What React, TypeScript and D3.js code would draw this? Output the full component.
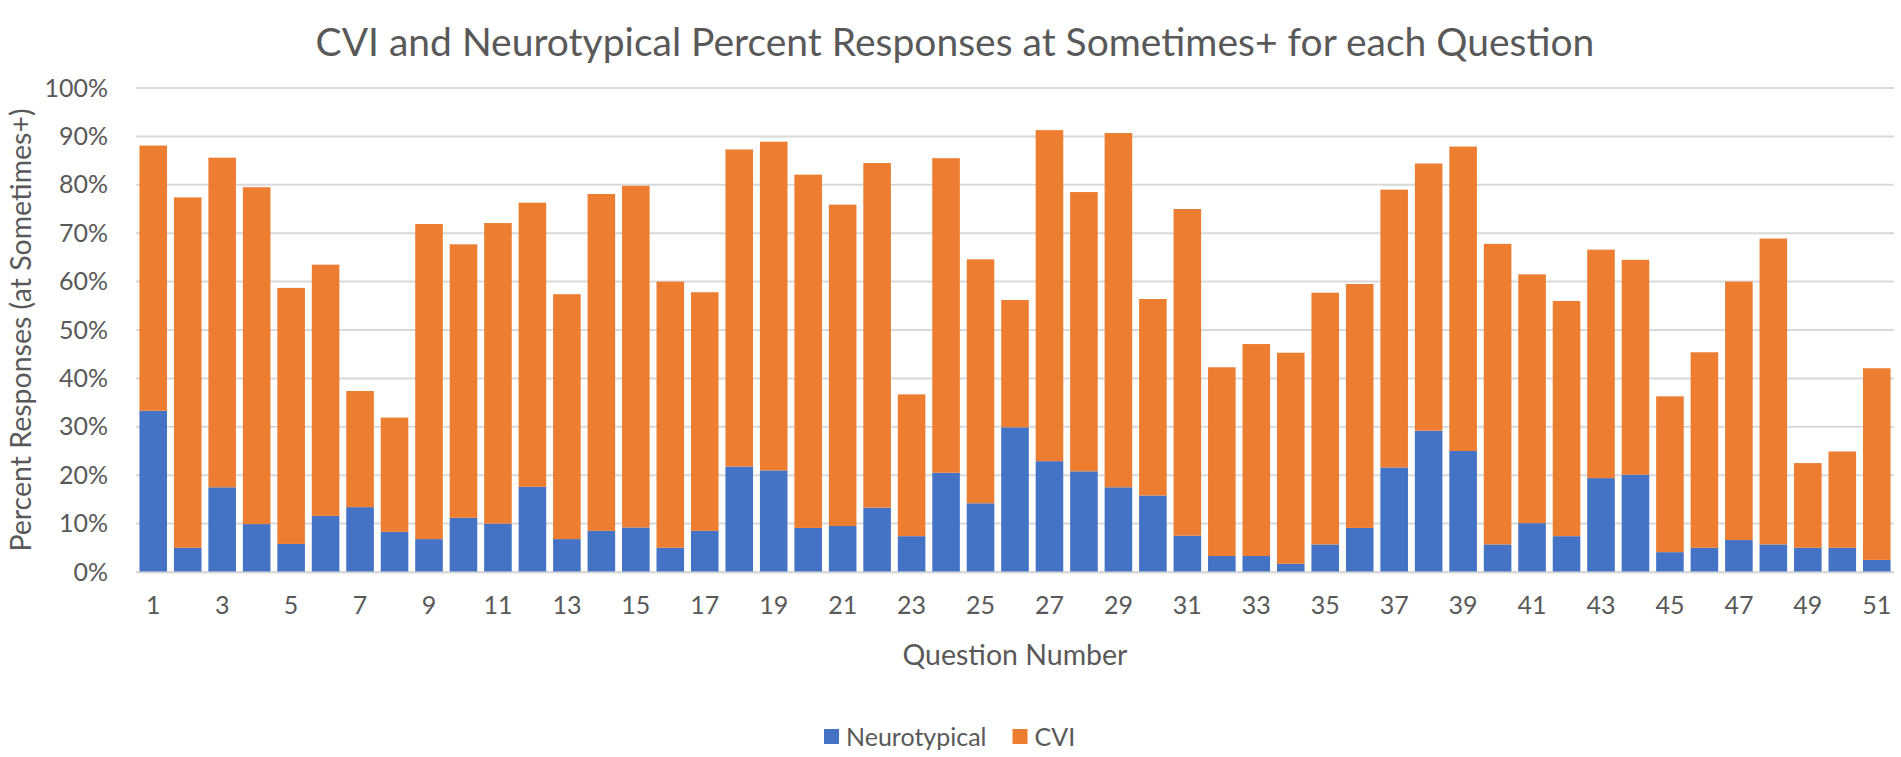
import React, { useEffect, useRef } from 'react';
import * as d3 from 'd3';

// Question numbers 1..51
const questions: string[] = [
    '1', '2', '3', '4', '5', '6', '7', '8', '9', '10',
    '11', '12', '13', '14', '15', '16', '17', '18', '19', '20',
    '21', '22', '23', '24', '25', '26', '27', '28', '29', '30',
    '31', '32', '33', '34', '35', '36', '37', '38', '39', '40',
    '41', '42', '43', '44', '45', '46', '47', '48', '49', '50', '51',
];

// Neurotypical percent (bottom segment)
const neurotypical: number[] = [
    33.3, 5.0, 17.5, 9.9, 5.8, 11.6, 13.4, 8.3, 6.8, 11.2,
    10.0, 17.6, 6.8, 8.5, 9.2, 5.0, 8.5, 21.8, 21.0, 9.1,
    9.5, 13.3, 7.4, 20.5, 14.2, 29.9, 22.9, 20.8, 17.5, 15.8,
    7.5, 3.3, 3.3, 1.7, 5.7, 9.1, 21.6, 29.2, 25.0, 5.7,
    10.1, 7.4, 19.4, 20.1, 4.1, 5.0, 6.6, 5.7, 5.0, 5.0, 2.5,
];

// CVI percent (stacked on top)
const cvi: number[] = [
    54.8, 72.4, 68.1, 69.6, 52.9, 51.9, 24.0, 23.6, 65.1, 56.5,
    62.1, 58.7, 50.6, 69.6, 70.6, 55.0, 49.3, 65.5, 67.9, 73.0,
    66.4, 71.2, 29.3, 65.0, 50.4, 26.3, 68.4, 57.7, 73.2, 40.6,
    67.5, 39.0, 43.8, 43.6, 52.0, 50.4, 57.4, 55.2, 62.9, 62.1,
    51.4, 48.6, 47.2, 44.4, 32.2, 40.4, 53.4, 63.2, 17.5, 19.9, 39.6,
];

const yTicks: number[] = [0, 10, 20, 30, 40, 50, 60, 70, 80, 90, 100];
const xTickLabels: string[] = questions.filter((_, i) => i % 2 === 0);

const seriesNames = ['Neurotypical', 'CVI'];
const seriesColors = ['#4472C4', '#ED7D31'];

const W = 1901;
const H = 757;
const FONT = 'Lato, "Open Sans", sans-serif';
const TEXT = '#595959';

const CviChart: React.FC = () => {
    const chartRef = useRef<SVGSVGElement>(null);

    useEffect(() => {
        if (!chartRef.current) return;
        const svg = d3.select(chartRef.current);
        svg.selectAll('*').remove();

        const margin = { top: 88, right: 7, bottom: 185, left: 136 };
        const width = W - margin.left - margin.right;
        const height = H - margin.top - margin.bottom;

        const rows = questions.map((q, i) => ({ q, neurotypical: neurotypical[i], cvi: cvi[i] }));
        const stacked = d3.stack<any>().keys(['neurotypical', 'cvi'])(rows);

        const x = d3.scaleBand().domain(questions).range([0, width]).paddingInner(0.2).paddingOuter(0.1);
        const y = d3.scaleLinear().domain([0, 100]).range([height, 0]);

        svg.append('rect').attr('width', W).attr('height', H).attr('fill', '#fff');

        // Title
        svg.append('text')
            .attr('x', 955)
            .attr('y', 56)
            .attr('text-anchor', 'middle')
            .attr('font-family', FONT)
            .attr('font-size', 39)
            .attr('fill', TEXT)
            .text('CVI and Neurotypical Percent Responses at Sometimes+ for each Question');

        const g = svg.append('g').attr('transform', `translate(${margin.left},${margin.top})`);

        // Gridlines
        g.append('g')
            .selectAll('line')
            .data(yTicks)
            .join('line')
            .attr('x1', 0)
            .attr('x2', width)
            .attr('y1', d => y(d))
            .attr('y2', d => y(d))
            .attr('stroke', '#D9D9D9')
            .attr('stroke-width', 2);

        // Bars
        g.append('g')
            .selectAll('g')
            .data(stacked)
            .join('g')
            .attr('fill', (_, i) => seriesColors[i])
            .selectAll('rect')
            .data(d => d)
            .join('rect')
            .attr('x', d => x(d.data.q)!)
            .attr('y', d => y(d[1]))
            .attr('width', x.bandwidth())
            .attr('height', d => y(d[0]) - y(d[1]));

        // Y axis
        const yAxis = g.append('g')
            .call(d3.axisLeft(y).tickValues(yTicks).tickFormat(d => `${d}%`).tickSize(0).tickPadding(28));
        yAxis.select('.domain').remove();
        yAxis.selectAll('text')
            .attr('font-family', FONT)
            .attr('font-size', 25)
            .attr('fill', TEXT);

        // X axis
        const xAxis = g.append('g')
            .attr('transform', `translate(0,${height})`)
            .call(d3.axisBottom(x).tickValues(xTickLabels).tickSize(0).tickPadding(24));
        xAxis.select('.domain').attr('stroke', '#D9D9D9').attr('stroke-width', 2);
        xAxis.selectAll('text')
            .attr('font-family', FONT)
            .attr('font-size', 25)
            .attr('fill', TEXT);

        // Axis titles
        svg.append('text')
            .attr('x', margin.left + width / 2)
            .attr('y', 665)
            .attr('text-anchor', 'middle')
            .attr('font-family', FONT)
            .attr('font-size', 28.5)
            .attr('fill', TEXT)
            .text('Question Number');

        svg.append('text')
            .attr('transform', `translate(31,${margin.top + height / 2}) rotate(-90)`)
            .attr('text-anchor', 'middle')
            .attr('font-family', FONT)
            .attr('font-size', 28.5)
            .attr('fill', TEXT)
            .text('Percent Responses (at Sometimes+)');

        // Legend
        const legend = svg.append('g').attr('transform', 'translate(824,737)');
        let lx = 0;
        seriesNames.forEach((name, i) => {
            legend.append('rect')
                .attr('x', lx)
                .attr('y', -8)
                .attr('width', 15)
                .attr('height', 15)
                .attr('fill', seriesColors[i]);
            const t = legend.append('text')
                .attr('x', lx + 22)
                .attr('y', 9)
                .attr('font-family', FONT)
                .attr('font-size', 25)
                .attr('fill', TEXT)
                .text(name);
            const w = (t.node() as SVGTextElement).getComputedTextLength();
            lx += 22 + w + 26;
        });
    }, []);

    return (
        <svg
            ref={chartRef}
            width={W}
            height={H}
            style={{ position: 'absolute', left: 0, top: 0, display: 'block' }}
        />
    );
};

export default function App() {
    return <CviChart />;
}
